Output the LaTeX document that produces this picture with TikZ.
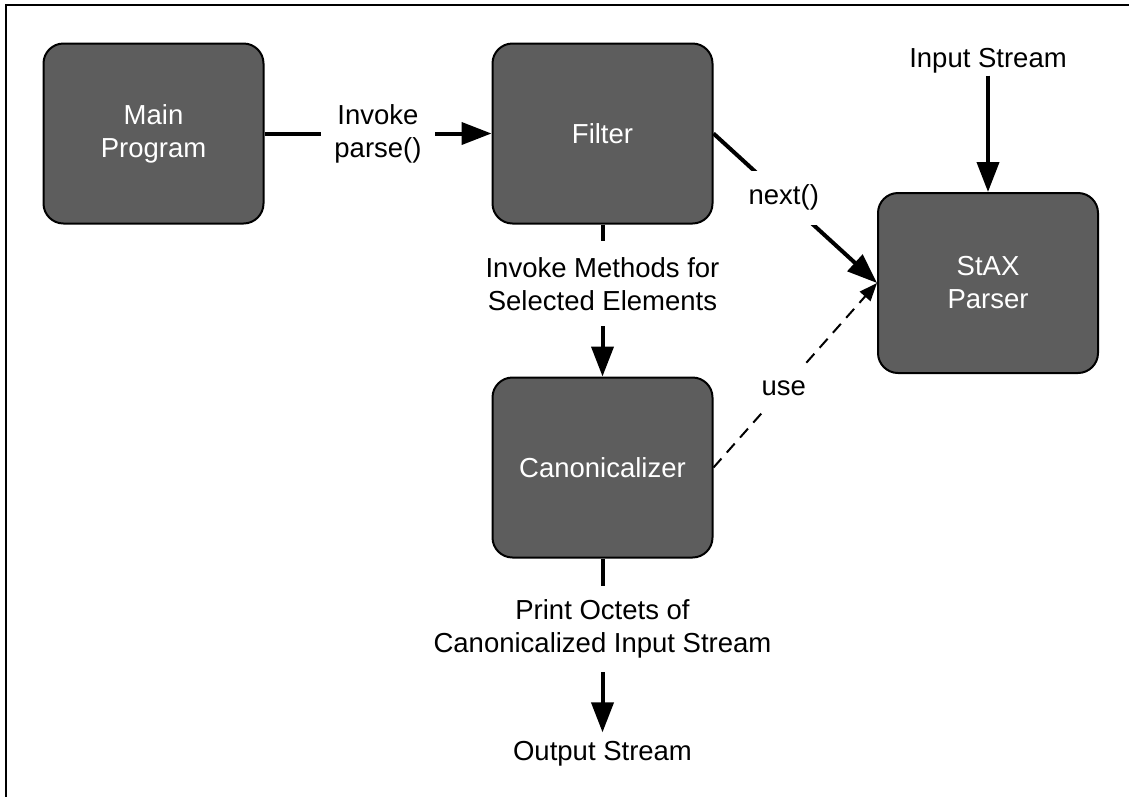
\documentclass[tikz,border=0pt]{standalone}
\usepackage{fontspec}
\setmainfont{Liberation Sans}
\usetikzlibrary{arrows.meta}
\definecolor{boxgray}{RGB}{93,93,93}
\begin{document}
\begin{tikzpicture}[x=1pt,y=-1pt,
  txt/.style={font=\fontsize{27.5}{33}\selectfont, align=center},
  procbox/.style={txt, draw=black, line width=2pt, fill=boxgray, text=white,
    rounded corners=20pt, minimum width=220pt, minimum height=180pt, inner sep=0pt},
  conn/.style={line width=4pt, -{Triangle[length=30pt,width=22pt]}},
  useconn/.style={line width=2pt, dash pattern=on 12pt off 8pt,
    -{Triangle[length=18pt,width=14pt]}},
  lbl/.style={txt, fill=white, inner xsep=13pt, inner ysep=16pt},
  diaglbl/.style={txt, fill=white, inner xsep=2pt, inner ysep=14pt},
  endlbl/.style={txt}]
\useasboundingbox (0,0) rectangle (1129,796);

% frame
\draw[line width=2pt] (6,797) -- (6,5) -- (1130,5);

% process boxes
\node[procbox] (main)   at (153.5,133.5) {Main\\Program};
\node[procbox] (filter) at (602.5,133.5) {Filter};
\node[procbox] (canon)  at (602.5,467.5) {Canonicalizer};
\node[procbox] (stax)   at (988,283)     {StAX\\Parser};

% stream end points
\node[endlbl, inner sep=2pt] (input)  at (988,61)  {Input Stream};
\node[endlbl, inner sep=9pt] (output) at (602.5,754) {Output Stream};

% connectors
\draw[conn] (main.east) -- node[lbl, inner ysep=4pt] {Invoke\\parse()} (filter.west);
\draw[conn] (filter.east) -- node[diaglbl, pos=0.43] {next()} (stax.west);
\draw[useconn] (canon.east) -- node[diaglbl, pos=0.43] {use} (stax.west);
\draw[conn] (filter.south) -- node[lbl, pos=0.39] {Invoke Methods for\\Selected Elements} (canon.north);
\draw[conn] (canon.south) -- node[lbl, pos=0.405, inner ysep=14pt] {Print Octets of\\Canonicalized Input Stream} (output.north);
\draw[conn] (input.south) -- (stax.north);
\end{tikzpicture}
\end{document}
